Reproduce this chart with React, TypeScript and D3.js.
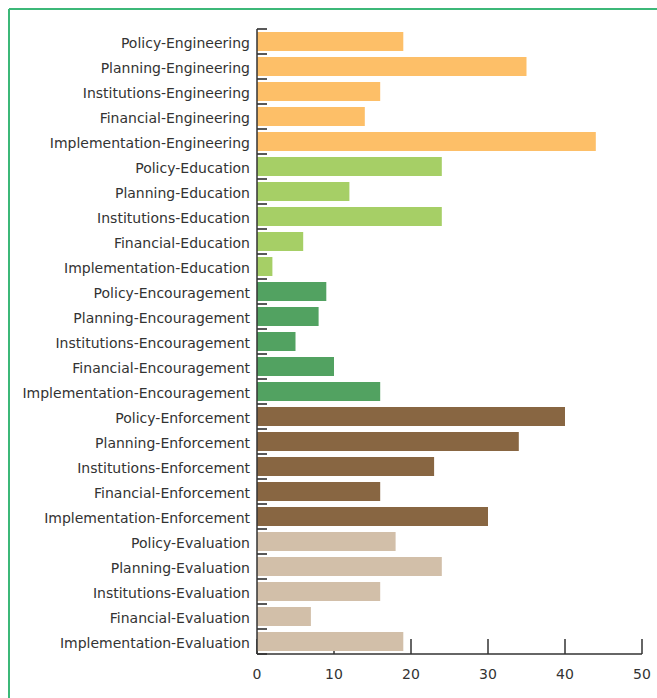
import React from "react";
import * as d3 from "d3";

const groups = ["Engineering", "Education", "Encouragement", "Enforcement", "Evaluation"];
const aspects = ["Policy", "Planning", "Institutions", "Financial", "Implementation"];
const categories = groups.flatMap((g) => aspects.map((a) => `${a}-${g}`));
const values = [
  19, 35, 16, 14, 44,
  24, 12, 24, 6, 2,
  9, 8, 5, 10, 16,
  40, 34, 23, 16, 30,
  18, 24, 16, 7, 19,
];
const groupColors = ["#fdbf68", "#a6cf66", "#52a261", "#886642", "#d2bfa9"];
const xTicks = [0, 10, 20, 30, 40, 50];

const W = 657;
const H = 698;

export default function App() {
  const x = d3.scaleLinear().domain([0, 50]).range([257, 642]);
  const y = d3
    .scaleBand<string>()
    .domain(categories)
    .range([29, 654])
    .paddingInner(0.24)
    .paddingOuter(0.12);
  const step = y.step();
  const bandStarts = categories.map((c, i) => 29 + i * step);
  const font = "'DejaVu Sans', sans-serif";
  return (
    <svg
      width={W}
      height={H}
      style={{ display: "block", position: "absolute", left: 0, top: 0 }}
    >
      <line x1={9} x2={W} y1={9} y2={9} stroke="#3cb878" strokeWidth={2} />
      <line x1={9} x2={9} y1={9} y2={H} stroke="#3cb878" strokeWidth={2} />
      {/* x ticks (upward) */}
      {xTicks.map((t) => (
        <line key={"xt" + t} x1={x(t)} x2={x(t)} y1={654} y2={639} stroke="#333" strokeWidth={1.5} />
      ))}
      {/* bars */}
      {categories.map((c, i) => (
        <rect
          key={c}
          x={x(0)}
          y={y(c)!}
          width={x(values[i]) - x(0)}
          height={y.bandwidth()}
          fill={groupColors[Math.floor(i / aspects.length)]}
        />
      ))}
      {/* band ticks */}
      {[...bandStarts, 654].map((b, i) => (
        <line key={"bt" + i} x1={x(0)} x2={x(0) + 10} y1={b} y2={b} stroke="#222" strokeWidth={1.5} />
      ))}
      {/* axes lines */}
      <line x1={x(0)} x2={x(0)} y1={29} y2={654} stroke="#333" strokeWidth={1.5} />
      <line x1={x(0)} x2={x(50)} y1={654} y2={654} stroke="#333" strokeWidth={1.5} />
      {/* category labels */}
      {categories.map((c) => (
        <text
          key={"l" + c}
          x={250}
          y={y(c)! + y.bandwidth() / 2}
          dy="0.45em"
          textAnchor="end"
          fontFamily={font}
          fontSize={14}
          fill="#333"
        >
          {c}
        </text>
      ))}
      {xTicks.map((t) => (
        <text
          key={"xl" + t}
          x={x(t)}
          y={673}
          dy="0.45em"
          textAnchor="middle"
          fontFamily={font}
          fontSize={14}
          fill="#333"
        >
          {t}
        </text>
      ))}
    </svg>
  );
}
